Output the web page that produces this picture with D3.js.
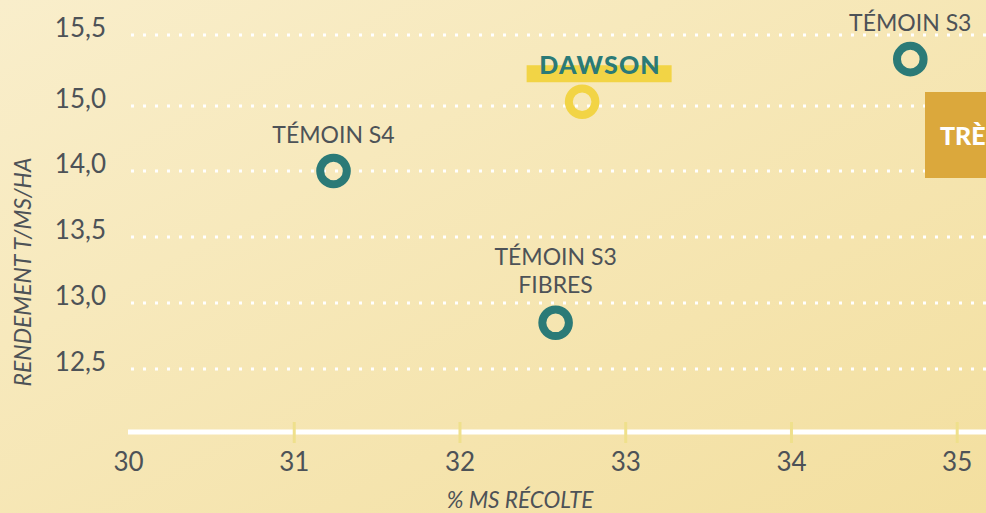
<!DOCTYPE html>
<meta charset="utf-8">
<script src="https://d3js.org/d3.v7.min.js"></script>
<style>
  body { margin: 0; }
  svg { display: block; font-family: Lato, "Open Sans", sans-serif; }
</style>
<div id="chart"></div>
<script>

    // data
    var names = ["TÉMOIN S4", "DAWSON", "TÉMOIN S3", "TÉMOIN S3\nFIBRES"];
    var msRecolte = [31.24, 32.74, 34.72, 32.58];
    var rendement = [14.0, 15.03, 15.33, 12.85];
    var highlight = [false, true, false, false];

    var xTicks = [30, 31, 32, 33, 34, 35];
    // the source chart skips 14,5 and spaces its rows evenly anyway
    var yTicks = [12.5, 13.0, 13.5, 14.0, 15.0, 15.5];
    var sideLabel = "TRÈS PRÉCOCE";

    var width = 986, height = 513;
    var teal = "#2b7a77", yellow = "#f2d445", grey = "#4d5257";

    var svg = d3.select("#chart")
        .append("svg")
        .attr("width", width)
        .attr("height", height);

    // background gradient
    var grad = svg.append("defs").append("linearGradient")
        .attr("id", "bg")
        .attr("x1", "0").attr("y1", "0")
        .attr("x2", "1").attr("y2", "1");
    grad.append("stop").attr("offset", "0%").attr("stop-color", "#f9eecb");
    grad.append("stop").attr("offset", "100%").attr("stop-color", "#f3df9f");
    svg.append("rect")
        .attr("width", width).attr("height", height)
        .attr("fill", "url(#bg)");

    var x = d3.scaleLinear()
        .domain([30, 35])
        .range([128, 956.7]);

    // piecewise scale so each tick row lands where the original put it
    var y = d3.scaleLinear()
        .domain(yTicks)
        .range([369, 303, 237, 171, 106, 35]);

    var fr = d3.formatLocale({ decimal: ",", thousands: " ", grouping: [3], currency: ["", " €"] });

    // dotted grid rows
    svg.append("g")
        .selectAll("line")
        .data(yTicks)
        .join("line")
        .attr("x1", 131)
        .attr("x2", width)
        .attr("y1", function (d) { return y(d); })
        .attr("y2", function (d) { return y(d); })
        .attr("stroke", "white")
        .attr("stroke-width", 3)
        .attr("stroke-dasharray", "3,9");

    // Y axis labels
    var yAxis = svg.append("g")
        .attr("transform", "translate(106,0)")
        .call(d3.axisLeft(y).tickValues(yTicks).tickFormat(fr.format(".1f")).tickSize(0).tickPadding(0));
    yAxis.select(".domain").remove();
    yAxis.selectAll("text")
        .attr("dy", 1)
        .attr("fill", grey)
        .style("font-size", "26px")
        .style("font-family", "Lato, sans-serif");

    // X axis: thick white line, pale yellow ticks
    var axisY = 432;
    svg.append("line")
        .attr("x1", x(30)).attr("x2", width)
        .attr("y1", axisY).attr("y2", axisY)
        .attr("stroke", "white")
        .attr("stroke-width", 5);

    var xAxis = svg.append("g")
        .attr("transform", "translate(0," + axisY + ")")
        .call(d3.axisBottom(x).tickValues(xTicks).tickFormat(d3.format("d")).tickSizeOuter(0));
    xAxis.select(".domain").remove();
    xAxis.selectAll(".tick line")
        .attr("y1", -10)
        .attr("y2", 11)
        .attr("stroke", "#efe08c")
        .attr("stroke-width", 3)
        .attr("opacity", function (d) { return d === 30 ? 0 : 1; });
    xAxis.selectAll(".tick text")
        .attr("y", 0)
        .attr("dy", 38.5)
        .attr("fill", grey)
        .style("font-size", "26px")
        .style("font-family", "Lato, sans-serif");

    // axis titles
    svg.append("text")
        .attr("transform", "translate(31,272) rotate(-90)")
        .attr("text-anchor", "middle")
        .attr("fill", grey)
        .style("font-size", "23px")
        .style("font-style", "italic")
        .text("RENDEMENT T/MS/HA");

    svg.append("text")
        .attr("x", 520)
        .attr("y", 508)
        .attr("text-anchor", "middle")
        .attr("fill", grey)
        .style("font-size", "22.5px")
        .style("font-style", "italic")
        .text("% MS RÉCOLTE");

    // side box, cut by the right edge as in the source
    svg.append("rect")
        .attr("x", 925).attr("y", 92)
        .attr("width", 80).attr("height", 86)
        .attr("fill", "#dba83c");
    svg.append("text")
        .attr("x", 940).attr("y", 145)
        .attr("fill", "white")
        .style("font-size", "25px")
        .style("font-weight", 900)
        .text(sideLabel);

    var points = names.map(function (n, i) {
        return { name: n, ms: msRecolte[i], rend: rendement[i], hi: highlight[i] };
    });

    // circles
    svg.append("g")
        .selectAll("circle")
        .data(points)
        .join("circle")
        .attr("cx", function (d) { return x(d.ms); })
        .attr("cy", function (d) { return y(d.rend); })
        .attr("r", 13.3)
        .attr("fill", "none")
        .attr("stroke", function (d) { return d.hi ? yellow : teal; })
        .attr("stroke-width", 8);

    // labels
    var labels = svg.append("g")
        .selectAll("g")
        .data(points)
        .join("g")
        .attr("transform", function (d) { return "translate(" + x(d.ms) + "," + y(d.rend) + ")"; });

    labels.filter(function (d) { return d.hi; })
        .append("rect")
        .attr("x", -55.5).attr("y", -36.5)
        .attr("width", 145).attr("height", 17)
        .attr("fill", yellow);

    labels.append("text")
        .attr("text-anchor", "middle")
        .attr("fill", function (d) { return d.hi ? teal : grey; })
        .style("font-size", function (d) { return d.hi ? "25px" : "23px"; })
        .style("font-weight", function (d) { return d.hi ? 900 : 400; })
        .style("letter-spacing", function (d) { return d.hi ? "1.2px" : "0px"; })
        .each(function (d) {
            var lines = d.name.split("\n");
            var t = d3.select(this);
            lines.forEach(function (l, k) {
                t.append("tspan")
                    .attr("x", d.hi ? 18 : 0)
                    .attr("y", -28 - (lines.length - 1 - k) * 28 - (lines.length > 1 ? 2 : 0))
                    .text(l);
            });
        });

</script>
